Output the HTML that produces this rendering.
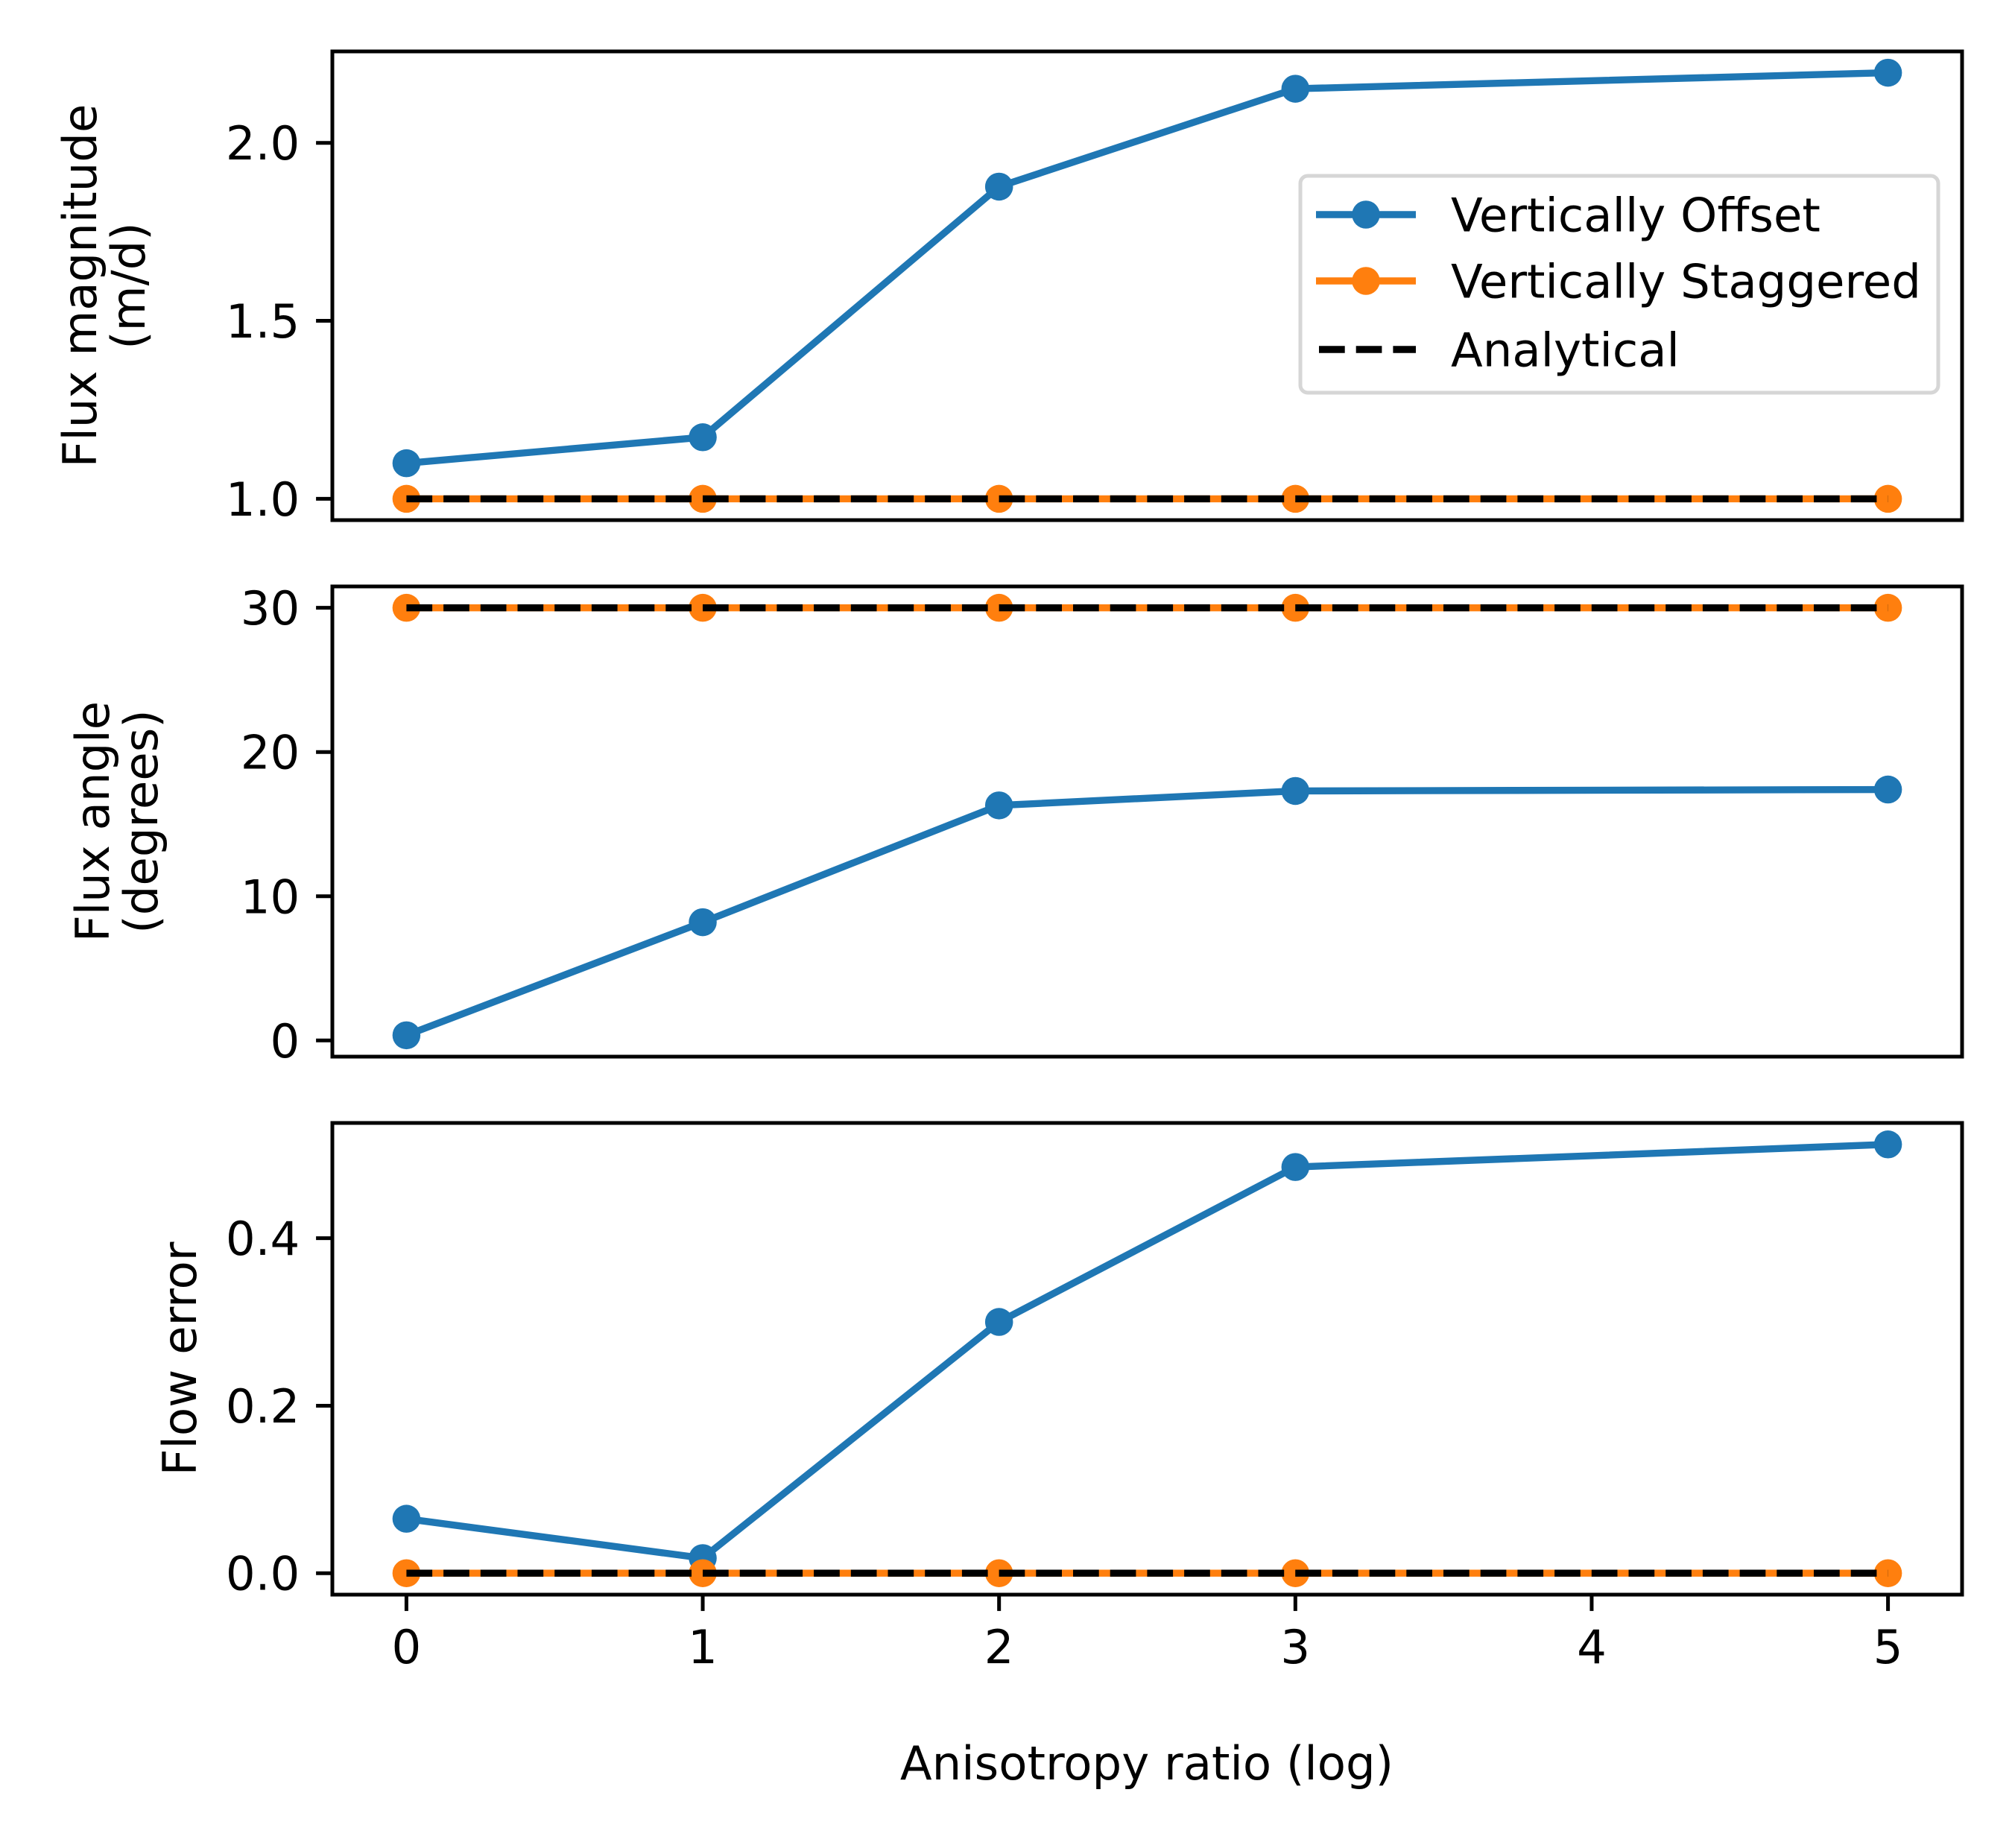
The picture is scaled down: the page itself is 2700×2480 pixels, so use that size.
<!DOCTYPE html>
<html><head><meta charset="utf-8"><style>
html,body{margin:0;padding:0;background:#fff}
svg text{font-family:"DejaVu Sans","Liberation Sans",sans-serif;fill:#000}
</style></head><body>
<svg id="fig" width="2700" height="2475" viewBox="0 0 2700 2475" xmlns="http://www.w3.org/2000/svg">
<rect width="2700" height="2475" fill="#fff"/>
</svg>
<script>
const xVals = [0, 1, 2, 3, 5];
const xTicks = [0, 1, 2, 3, 4, 5];
const magOffset = [1.10, 1.173, 1.877, 2.152, 2.197];
const magStag = [1, 1, 1, 1, 1];
const magAnalytical = [1, 1, 1, 1, 1];
const magTicks = [1.0, 1.5, 2.0];
const magTickLabels = ["1.0", "1.5", "2.0"];
const angOffset = [0.36, 8.2, 16.3, 17.3, 17.4];
const angStag = [30, 30, 30, 30, 30];
const angAnalytical = [30, 30, 30, 30, 30];
const angTicks = [0, 10, 20, 30];
const angTickLabels = ["0", "10", "20", "30"];
const errOffset = [0.065, 0.018, 0.300, 0.485, 0.512];
const errStag = [0, 0, 0, 0, 0];
const errAnalytical = [0, 0, 0, 0, 0];
const errTicks = [0.0, 0.2, 0.4];
const errTickLabels = ["0.0", "0.2", "0.4"];

const NS = "http://www.w3.org/2000/svg";
const svg = document.getElementById('fig');
function mk(tag, attrs, parent) {
  const e = document.createElementNS(NS, tag);
  for (const k in attrs) e.setAttribute(k, attrs[k]);
  (parent || svg).appendChild(e);
  return e;
}
const FS = 62.5, LW = 9.4, MR = 18.75, ALW = 5, TL = 21.9, DASH = '34.7 15';
const AX_L = 446, AX_R = 2633;
const xMin = -0.25, xMax = 5.25;
function sx(v) { return AX_L + (v - xMin) / (xMax - xMin) * (AX_R - AX_L); }

const panels = [
  {top: 69, bot: 698, off: magOffset, stag: magStag, ana: magAnalytical, ticks: magTicks, labels: magTickLabels, ylab: ["Flux magnitude", "(m/d)"], ylx: [107, 172], name: 'flux-magnitude', xt: false},
  {top: 787, bot: 1418, off: angOffset, stag: angStag, ana: angAnalytical, ticks: angTicks, labels: angTickLabels, ylab: ["Flux angle", "(degrees)"], ylx: [124, 189], name: 'flux-angle', xt: false},
  {top: 1507, bot: 2140, off: errOffset, stag: errStag, ana: errAnalytical, ticks: errTicks, labels: errTickLabels, ylab: ["Flow error"], ylx: [241], name: 'flow-error', xt: true}
];

panels.forEach(p => {
  const all = p.off.concat(p.stag, p.ana);
  const lo = Math.min(...all), hi = Math.max(...all);
  const m = (hi - lo) * 0.05;
  const yMin = lo - m, yMax = hi + m;
  const sy = v => p.bot - (v - yMin) / (yMax - yMin) * (p.bot - p.top);
  const g = mk('g', {});
  
  
  const pts = arr => arr.map((v, i) => sx(xVals[i]) + ',' + sy(v)).join(' ');
  const bl = mk('polyline', {points: pts(p.off), fill: 'none', stroke: '#1f77b4', 'stroke-width': LW, 'stroke-linejoin': 'round', 'stroke-linecap': 'square'}, g);
  
  
  p.off.forEach((v, i) => {
    const c = mk('circle', {cx: sx(xVals[i]), cy: sy(v), r: MR, fill: '#1f77b4'}, g);
    
    
  });
  const ol = mk('polyline', {points: pts(p.stag), fill: 'none', stroke: '#ff7f0e', 'stroke-width': LW, 'stroke-linecap': 'square'}, g);
  
  
  p.stag.forEach((v, i) => {
    const c = mk('circle', {cx: sx(xVals[i]), cy: sy(v), r: MR, fill: '#ff7f0e'}, g);
    
    
  });
  const al = mk('polyline', {points: pts(p.ana), fill: 'none', stroke: '#000', 'stroke-width': LW, 'stroke-dasharray': DASH}, g);
  
  
  const fr = mk('rect', {x: AX_L, y: p.top, width: AX_R - AX_L, height: p.bot - p.top, fill: 'none', stroke: '#000', 'stroke-width': ALW}, g);
  
  
  p.ticks.forEach((t, i) => {
    const y = sy(t);
    mk('line', {x1: AX_L - TL, x2: AX_L, y1: y, y2: y, stroke: '#000', 'stroke-width': ALW}, g);
    const tx = mk('text', {x: AX_L - 43.75, y: y + 22.5, 'font-size': FS, 'text-anchor': 'end'}, g);
    tx.textContent = p.labels[i];
    
    
  });
  const cy = (p.top + p.bot) / 2;
  p.ylab.forEach((s, i) => {
    const x = p.ylx[i] + 22;
    const t = mk('text', {x: x, y: cy, 'font-size': FS, 'text-anchor': 'middle', transform: `rotate(-90 ${x} ${cy})`}, g);
    t.textContent = s;
    
    
  });
  if (p.xt) {
    xTicks.forEach(t => {
      const x = sx(t);
      mk('line', {x1: x, x2: x, y1: p.bot, y2: p.bot + TL, stroke: '#000', 'stroke-width': ALW}, g);
      const tx = mk('text', {x: x, y: p.bot + 92, 'font-size': FS, 'text-anchor': 'middle'}, g);
      tx.textContent = String(t);
      
      
    });
  }
});

const xl = mk('text', {x: 1539, y: 2388, 'font-size': FS, 'text-anchor': 'middle'});
xl.textContent = 'Anisotropy ratio (log)';



const lg = mk('g', {});


mk('rect', {x: 1745, y: 236, width: 856, height: 291, rx: 10, fill: '#fff', 'fill-opacity': 0.8, stroke: '#d6d6d6', 'stroke-width': 5}, lg);
const entries = [
  {label: 'Vertically Offset', color: '#1f77b4', dash: null, y: 288},
  {label: 'Vertically Staggered', color: '#ff7f0e', dash: null, y: 377},
  {label: 'Analytical', color: '#000', dash: DASH, y: 469}
];
entries.forEach(e => {
  const eg = mk('g', {}, lg);
  
  
  const a = {x1: 1766, x2: 1900, y1: e.y, y2: e.y, stroke: e.color, 'stroke-width': LW};
  if (e.dash) { a['stroke-dasharray'] = e.dash; a.x1 = 1770; }
  mk('line', a, eg);
  if (!e.dash) mk('circle', {cx: 1833, cy: e.y, r: MR, fill: e.color}, eg);
  const t = mk('text', {x: 1947, y: e.y + 22.5, 'font-size': FS}, eg);
  t.textContent = e.label;
});
</script>
</body></html>
